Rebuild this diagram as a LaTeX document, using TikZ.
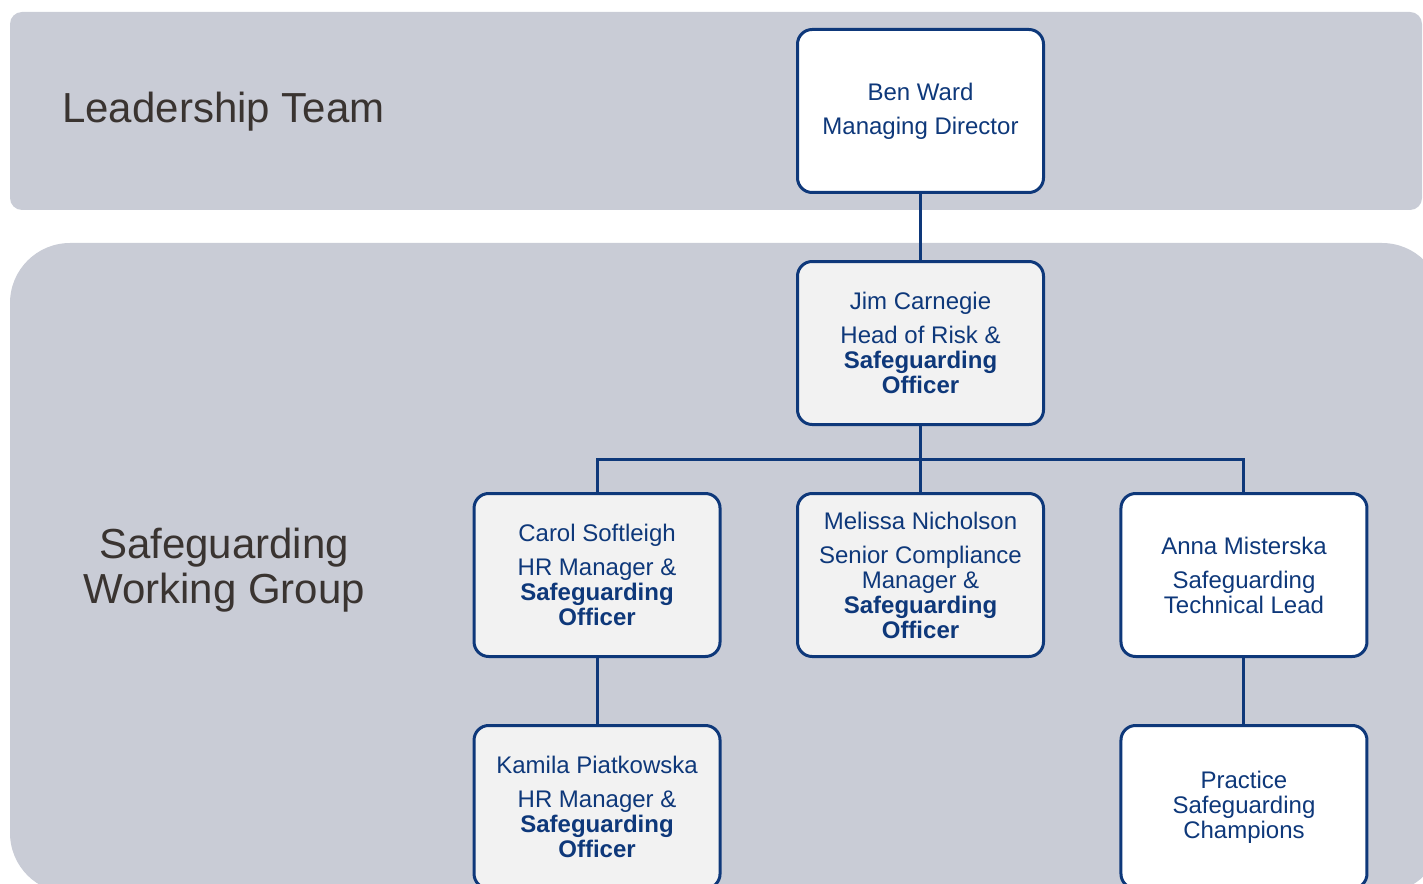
\documentclass[tikz,border=0pt]{standalone}
\usepackage{fontspec}
\setmainfont{Liberation Sans}
\usetikzlibrary{calc}

\definecolor{bandgrey}{RGB}{201,204,214}
\definecolor{navy}{RGB}{14,56,122}
\definecolor{offwhite}{RGB}{242,242,242}
\definecolor{labelgrey}{RGB}{58,52,49}

\begin{document}
\begin{tikzpicture}[x=0.75pt, y=-0.75pt, node distance=174pt]
    \tikzstyle{member} = [rectangle, rounded corners=11pt, minimum width=184.5pt, minimum height=122.25pt, inner sep=0pt, align=center, draw=navy, line width=2.25pt, fill=white, text=navy, font=\fontsize{18}{18.75}\selectfont]
    \tikzstyle{officer} = [member, fill=offwhite]
    \tikzstyle{group} = [inner sep=0pt, align=center, text=labelgrey, font=\fontsize{31.5}{33.75}\selectfont]
    \tikzstyle{link} = [draw=navy, line width=2.25pt]

    \path [use as bounding box, clip] (0,0) rectangle (1423,884);

    % Background bands
    \fill [bandgrey, rounded corners=9pt] (10,12) rectangle (1422,210);
    \fill [bandgrey, rounded corners=45pt] (10,243) rectangle (1442,893);

    \node [group, anchor=base west] (leadership) at (62,123) {Leadership Team};
    \node [group] (working) at (224,570) {Safeguarding\\Working Group};

    % Leadership
    \node [member] (ward) at (920.5,111) {Ben Ward\\[6.75pt]Managing Director};

    % Safeguarding officers
    \node [officer, below of=ward] (carnegie) {Jim Carnegie\\[6.75pt]Head of Risk \&\\\textbf{Safeguarding}\\\textbf{Officer}};
    \node [officer, below of=carnegie] (nicholson) {Melissa Nicholson\\[6.75pt]Senior Compliance\\Manager \&\\\textbf{Safeguarding}\\\textbf{Officer}};
    \node [officer, left of=nicholson, xshift=-68.6pt] (softleigh) {Carol Softleigh\\[6.75pt]HR Manager \&\\\textbf{Safeguarding}\\\textbf{Officer}};
    \node [member, right of=nicholson, xshift=68.6pt] (misterska) {Anna Misterska\\[6.75pt]Safeguarding\\Technical Lead};
    \node [officer, below of=softleigh] (piatkowska) {Kamila Piatkowska\\[6.75pt]HR Manager \&\\\textbf{Safeguarding}\\\textbf{Officer}};
    \node [member, below of=misterska] (champions) {Practice\\Safeguarding\\Champions};

    % Connections
    \coordinate (branch) at ($(carnegie.south)!0.5!(nicholson.north)$);
    \draw [link] (ward) -- (carnegie);
    \draw [link] (carnegie) -- (nicholson);
    \draw [link] (softleigh) |- (branch) -| (misterska);
    \draw [link] (softleigh) -- (piatkowska);
    \draw [link] (misterska) -- (champions);
\end{tikzpicture}
\end{document}
